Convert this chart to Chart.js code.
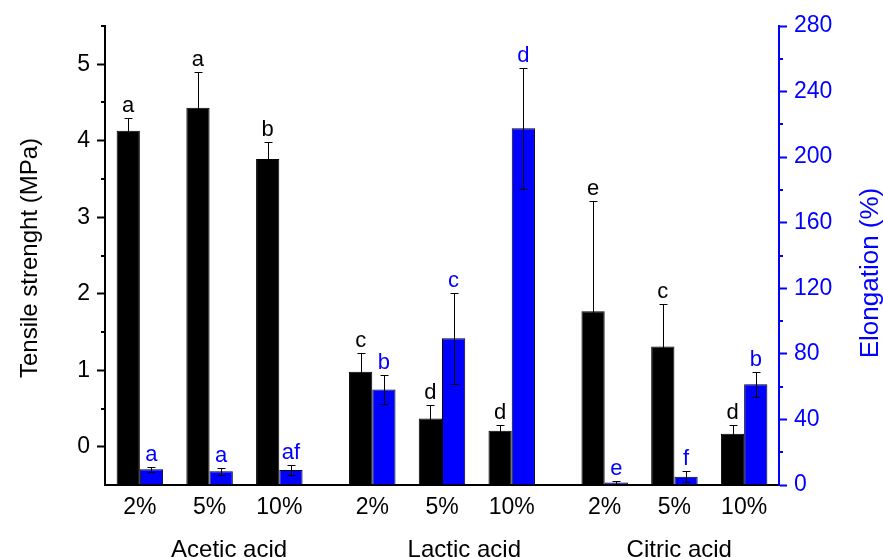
<!DOCTYPE html>
<html>
<head>
<meta charset="utf-8">
<script src="https://cdn.jsdelivr.net/npm/chart.js@4.4.0/dist/chart.umd.min.js"></script>
<style>
  html, body { margin: 0; padding: 0; background: #fff; }
  #wrap { width: 883px; height: 558px; }
</style>
</head>
<body>
<div id="wrap"><canvas id="chart" width="883" height="558"></canvas></div>
<script>
// Tensile strength (MPa) and elongation (%) of films made with different acids
const groups = ['Acetic acid', 'Lactic acid', 'Citric acid'];
const concentrations = ['2%', '5%', '10%'];

const tensile = [4.13, 4.43, 3.76, 0.98, 0.37, 0.21, 1.77, 1.31, 0.17];
const tensileErr = [0.17, 0.47, 0.23, 0.25, 0.17, 0.07, 1.44, 0.56, 0.11];
const tensileLetters = ['a', 'a', 'b', 'c', 'd', 'd', 'e', 'c', 'd'];

const elongation = [9.6, 8.4, 9.2, 58.3, 89.5, 217.6, 1.6, 5.1, 61.4];
const elongationErr = [1.5, 2.0, 3.2, 8.8, 27.8, 37.0, 0.8, 3.2, 7.7];
const elongationLetters = ['a', 'a', 'af', 'b', 'c', 'd', 'e', 'f', 'b'];

const tensileTicks = [0, 1, 2, 3, 4, 5];
const elongationTicks = [0, 40, 80, 120, 160, 200, 240, 280];

const BLUE = '#0000ff';
const FONT = 'Arial, "Liberation Sans", sans-serif';

// x position of each bar pair: groups separated by an extra third of a slot
const groupGap = 1 / 3;
const xPos = [];
groups.forEach((g, gi) => {
  concentrations.forEach((c, ci) => {
    xPos.push(gi * (concentrations.length + groupGap) + ci);
  });
});

const errorBars = {
  id: 'errorBars',
  afterDatasetsDraw(chart) {
    const ctx = chart.ctx;
    ctx.save();
    chart.data.datasets.forEach((ds, di) => {
      const meta = chart.getDatasetMeta(di);
      const yScale = chart.scales[ds.yAxisID];
      meta.data.forEach((bar, i) => {
        const v = ds.data[i].y, e = ds.errors[i];
        const x = Math.round(bar.x) + 0.5;
        const yTop = Math.round(yScale.getPixelForValue(v + e)) + 0.5;
        const yBot = Math.round(yScale.getPixelForValue(Math.max(v - e, yScale.min))) + 0.5;
        ctx.strokeStyle = '#000';
        ctx.lineWidth = 1;
        ctx.beginPath();
        ctx.moveTo(x, yTop); ctx.lineTo(x, yBot);
        ctx.moveTo(x - 4, yTop); ctx.lineTo(x + 4, yTop);
        ctx.moveTo(x - 4, yBot); ctx.lineTo(x + 4, yBot);
        ctx.stroke();
        ctx.fillStyle = ds.letterColor;
        ctx.font = '22px ' + FONT;
        ctx.textAlign = 'center';
        ctx.textBaseline = 'alphabetic';
        ctx.fillText(ds.letters[i], bar.x, yTop - 7);
      });
    });
    ctx.restore();
  }
};

const extras = {
  id: 'extras',
  afterDraw(chart) {
    const ctx = chart.ctx;
    const {x, y, y1} = chart.scales;
    ctx.save();
    // minor ticks
    ctx.lineWidth = 2;
    ctx.strokeStyle = '#000';
    ctx.beginPath();
    for (let v = 0.5; v <= 5.5; v += 1) {
      const py = Math.round(y.getPixelForValue(v));
      ctx.moveTo(y.right - 4, py); ctx.lineTo(y.right, py);
    }
    ctx.stroke();
    ctx.strokeStyle = BLUE;
    ctx.beginPath();
    for (let v = 20; v < 280; v += 40) {
      const py = Math.round(y1.getPixelForValue(v));
      ctx.moveTo(y1.left, py); ctx.lineTo(y1.left + 4, py);
    }
    ctx.stroke();

    // group labels under the concentrations
    const shift = [0.28, 0.32, 0.07];
    ctx.font = '24px ' + FONT;
    ctx.fillStyle = '#000';
    ctx.textAlign = 'center';
    ctx.textBaseline = 'alphabetic';
    groups.forEach((g, gi) => {
      const mid = xPos[gi * concentrations.length + 1];
      ctx.fillText(g, x.getPixelForValue(mid + shift[gi]), 557);
    });

    // axis titles
    ctx.save();
    ctx.translate(37, 258);
    ctx.rotate(-Math.PI / 2);
    ctx.font = '24px ' + FONT;
    ctx.fillStyle = '#000';
    ctx.fillText('Tensile strenght (MPa)', 0, 0);
    ctx.restore();

    ctx.save();
    ctx.translate(878, 273);
    ctx.rotate(-Math.PI / 2);
    ctx.font = '26px ' + FONT;
    ctx.fillStyle = BLUE;
    ctx.fillText('Elongation (%)', 0, 0);
    ctx.restore();

    ctx.restore();
  }
};

new Chart(document.getElementById('chart'), {
  type: 'bar',
  data: {
    datasets: [
      {
        label: 'Tensile strenght (MPa)',
        data: tensile.map((v, i) => ({ x: xPos[i], y: v })),
        errors: tensileErr,
        letters: tensileLetters,
        letterColor: '#000',
        yAxisID: 'y',
        base: -0.5,
        backgroundColor: '#000',
        borderColor: '#000',
        borderWidth: 1,
        categoryPercentage: 2 / 3,
        barPercentage: 1
      },
      {
        label: 'Elongation (%)',
        data: elongation.map((v, i) => ({ x: xPos[i], y: v })),
        errors: elongationErr,
        letters: elongationLetters,
        letterColor: BLUE,
        yAxisID: 'y1',
        backgroundColor: BLUE,
        borderColor: '#000',
        borderWidth: 1,
        categoryPercentage: 2 / 3,
        barPercentage: 1
      }
    ]
  },
  options: {
    responsive: false,
    animation: false,
    layout: { padding: { top: 26, left: 0, right: 0, bottom: 0 } },
    plugins: {
      legend: { display: false },
      tooltip: { enabled: false }
    },
    scales: {
      x: {
        type: 'linear',
        offset: false,
        min: xPos[0] - 0.5,
        max: xPos[xPos.length - 1] + 0.5,
        grid: { display: false, drawTicks: false, offset: false },
        border: { display: true, color: '#000', width: 2 },
        afterBuildTicks: s => { s.ticks = xPos.map(v => ({ value: v })); },
        ticks: {
          autoSkip: false,
          maxRotation: 0,
          padding: 9,
          color: '#000',
          font: { family: FONT, size: 23 },
          callback: (v, i) => concentrations[i % concentrations.length]
        },
        afterFit: s => { s.height = 73; }
      },
      y: {
        position: 'left',
        min: -0.5,
        max: 5.5,
        afterBuildTicks: s => { s.ticks = tensileTicks.map(v => ({ value: v })); },
        grid: { drawOnChartArea: false, tickLength: 8, tickColor: '#000', tickWidth: 2 },
        border: { color: '#000', width: 2 },
        ticks: { padding: 7, color: '#000', font: { family: FONT, size: 23 } },
        afterFit: s => { s.width = 105; }
      },
      y1: {
        position: 'right',
        min: 0,
        max: 280,
        afterBuildTicks: s => { s.ticks = elongationTicks.map(v => ({ value: v })); },
        grid: { drawOnChartArea: false, tickLength: 8, tickColor: BLUE, tickWidth: 2 },
        border: { color: BLUE, width: 2 },
        ticks: { padding: 7, color: BLUE, font: { family: FONT, size: 23 } },
        afterFit: s => { s.width = 104; }
      }
    }
  },
  plugins: [errorBars, extras]
});
</script>
</body>
</html>
